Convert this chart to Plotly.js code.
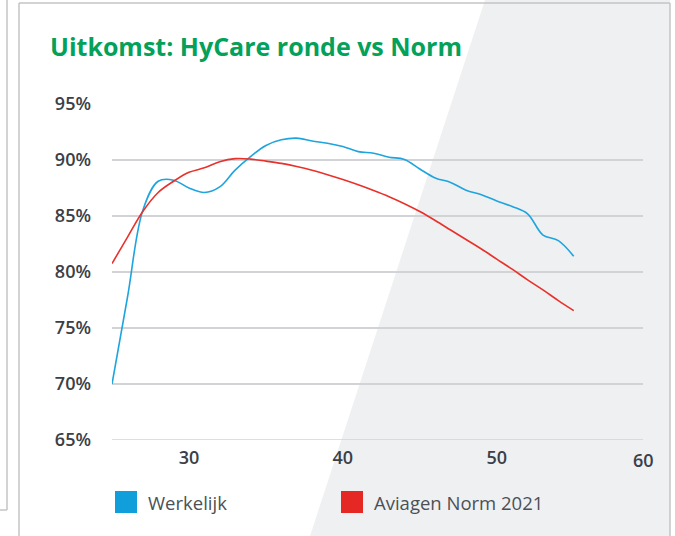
<!DOCTYPE html>
<html>
<head>
<meta charset="utf-8">
<script src="https://cdn.plot.ly/plotly-3.0.1.min.js"></script>
<style>html,body{margin:0;padding:0;background:#fff;}#chart{width:675px;height:536px;}</style>
</head>
<body>
<div id="chart"></div>
<script>
// ---- data ----
const chartTitle = "Uitkomst: HyCare ronde vs Norm";
const seriesNames = ["Werkelijk", "Aviagen Norm 2021"];
const days = [25,26,27,28,29,30,31,32,33,34,35,36,37,38,39,40,41,42,43,44,45,46,47,48,49,50,51,52,53,54,55];
const werkelijk = [70.0,77.7,85.5,88.1,88.2,87.5,87.1,87.6,89.1,90.3,91.3,91.8,91.95,91.7,91.5,91.2,90.75,90.6,90.25,90.05,89.2,88.4,88.0,87.3,86.9,86.35,85.85,85.2,83.3,82.8,81.4];
const norm = [80.75,83.1,85.4,87.1,88.1,88.9,89.3,89.85,90.12,90.08,89.9,89.7,89.42,89.08,88.68,88.25,87.78,87.27,86.72,86.1,85.4,84.6,83.75,82.9,82.05,81.15,80.25,79.3,78.4,77.45,76.55];
const xTicks = [30,40,50,60];
const yTicks = [65,70,75,80,85,90,95];

// ---- styling / layout ----
const W = 675, H = 536;
const M = {l:112, r:32, t:104, b:96};
const PW = W - M.l - M.r, PH = H - M.t - M.b;
const px = x => (x - M.l) / PW;
const py = y => (H - M.b - y) / PH;
const colors = ["#1ea4de", "#e8312b"];
const legendColors = ["#109fdb", "#e52824"];
const gridColor = "#d2d3d6";
const xMax = 59.5;
const tickFont = {family:"Open Sans", size:18, color:"#3a4047", weight:600};

const traces = [
  {x: days, y: werkelijk, name: seriesNames[0], type:"scatter", mode:"lines",
   line:{color:colors[0], width:1.6, shape:"spline", smoothing:1}},
  {x: days, y: norm, name: seriesNames[1], type:"scatter", mode:"lines",
   line:{color:colors[1], width:1.6, shape:"spline", smoothing:1}}
];

const shapes = [
  // grey diagonal background
  {type:"path", xref:"paper", yref:"paper", layer:"below",
   path:`M ${px(485)} ${py(0)} L ${px(670)} ${py(0)} L ${px(670)} ${py(536)} L ${px(310)} ${py(536)} Z`,
   fillcolor:"#eff0f2", line:{width:0}},
  // frames
  {type:"line", xref:"paper", yref:"paper", x0:px(19), x1:px(19), y0:py(3), y1:py(536), line:{color:"#c4c4c6", width:1.5}, layer:"below"},
  {type:"line", xref:"paper", yref:"paper", x0:px(19), x1:px(670), y0:py(3), y1:py(3), line:{color:"#c4c4c6", width:1.5}, layer:"below"},
  {type:"line", xref:"paper", yref:"paper", x0:px(670), x1:px(670), y0:py(3), y1:py(536), line:{color:"#c4c4c6", width:1.5}, layer:"below"},
  {type:"line", xref:"paper", yref:"paper", x0:px(7), x1:px(7), y0:py(0), y1:py(510), line:{color:"#c4c4c6", width:1.5}, layer:"below"},
  {type:"line", xref:"paper", yref:"paper", x0:px(0), x1:px(7), y0:py(510), y1:py(510), line:{color:"#c4c4c6", width:1.5}, layer:"below"},
  // baseline grid line at the lowest tick
  {type:"line", xref:"paper", yref:"y", x0:0, x1:1, y0:yTicks[0], y1:yTicks[0], line:{color:gridColor, width:1.5}, layer:"below"},
  // legend squares
  {type:"rect", xref:"paper", yref:"paper", x0:px(115), x1:px(137), y0:py(491), y1:py(513), fillcolor:legendColors[0], line:{width:0}},
  {type:"rect", xref:"paper", yref:"paper", x0:px(341), x1:px(363), y0:py(491), y1:py(513), fillcolor:legendColors[1], line:{width:0}}
];

const annotations = [
  {xref:"paper", yref:"paper", x:px(146), y:py(502), xanchor:"left", yanchor:"middle", showarrow:false,
   text:seriesNames[0], font:{family:"Open Sans", size:18.5, color:"#4b5057"}},
  {xref:"paper", yref:"paper", x:px(372), y:py(502), xanchor:"left", yanchor:"middle", showarrow:false,
   text:seriesNames[1], font:{family:"Open Sans", size:18.5, color:"#4b5057"}}
];
// tick label beyond the plotted range (right edge of the plot)
xTicks.filter(v => v > xMax).forEach(v => annotations.push(
  {xref:"paper", yref:"paper", x:1, y:py(460), xanchor:"center", yanchor:"middle", showarrow:false,
   text:String(v), font:tickFont}));

const layout = {
  width: W, height: H,
  margin: M,
  paper_bgcolor:"#ffffff", plot_bgcolor:"rgba(0,0,0,0)",
  showlegend:false,
  title:{text:chartTitle, xref:"container", yref:"container", x:50/W, xanchor:"left", y:1-47/H, yanchor:"middle",
         font:{family:"Open Sans", size:25, color:"#03a15a", weight:700}},
  xaxis:{range:[25, xMax], tickvals:xTicks.filter(v => v <= xMax), showgrid:false, zeroline:false, showline:false,
         ticks:"", tickfont:tickFont, ticklabelstandoff:5, fixedrange:true},
  yaxis:{range:[65,95], tickvals:yTicks, ticktext:yTicks.map(v => v + "%"), showgrid:true, gridcolor:gridColor, gridwidth:1.5,
         zeroline:false, showline:false, ticks:"", tickfont:tickFont, ticklabelstandoff:20, fixedrange:true},
  shapes: shapes,
  annotations: annotations
};

Plotly.newPlot("chart", traces, layout, {displayModeBar:false, staticPlot:true});
</script>
</body>
</html>
